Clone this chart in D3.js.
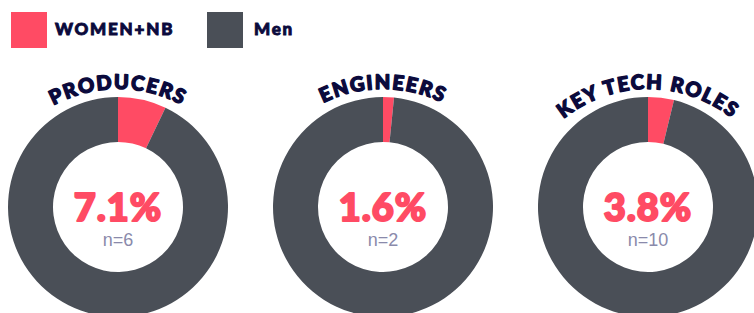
<!DOCTYPE html>
<html>
<head>
<meta charset="utf-8">
<script src="https://cdn.jsdelivr.net/npm/d3@7"></script>
<style>
  html, body { margin: 0; padding: 0; background: #ffffff; }
  svg { display: block; }
</style>
</head>
<body>
<svg id="chart" width="754" height="313"></svg>
<script>
// ---- data ----
const categories = ["PRODUCERS", "ENGINEERS", "KEY TECH ROLES"];
const womenNbPct = [7.1, 1.6, 3.8];
const counts = [6, 2, 10];
const seriesNames = ["WOMEN+NB", "Men"];
const seriesColors = ["#FF4B64", "#4A4F57"];

// ---- layout ----
const W = 754, H = 313;
const svg = d3.select("#chart");
const titleColor = "#0B0A3C";
const headFont = "Lato, 'DejaVu Sans', sans-serif";

// legend
const legend = svg.append("g");
const legendX = d3.scalePoint().domain(seriesNames).range([11, 207]);
seriesNames.forEach((name, i) => {
  const g = legend.append("g").attr("transform", `translate(${legendX(name)},12)`);
  g.append("rect").attr("width", 36).attr("height", 36).attr("fill", seriesColors[i]);
  g.append("text").attr("x", i === 0 ? 44 : 47).attr("y", 22.5)
    .attr("font-family", headFont).attr("font-weight", 900).attr("font-size", 17)
    .attr("letter-spacing", 1.8)
    .attr("stroke", titleColor).attr("stroke-width", 0.9)
    .attr("fill", titleColor).text(name);
});

// donuts
const x = d3.scalePoint().domain(categories).range([118, 648]);
const cy = 207;
const outerR = 110, innerR = 65;
const pie = d3.pie().sort(null).value(d => d);
const arc = d3.arc().innerRadius(innerR).outerRadius(outerR);
const color = d3.scaleOrdinal().domain([0, 1]).range(seriesColors);

const titleR = 135;      // radius of the curved title baseline
const titleTop = -118;   // baseline at the top, relative to donut centre

categories.forEach((cat, i) => {
  const g = svg.append("g").attr("transform", `translate(${x(cat)},${cy})`);
  const vals = [womenNbPct[i], 100 - womenNbPct[i]];
  g.selectAll("path.slice").data(pie(vals)).join("path")
    .attr("class", "slice")
    .attr("d", arc)
    .attr("fill", (d, j) => color(j));

  // curved title
  const c = titleTop + titleR;
  const pid = "tp" + i;
  g.append("path").attr("id", pid)
    .attr("d", `M ${-titleR},${c} A ${titleR},${titleR} 0 0 1 ${titleR},${c}`)
    .attr("fill", "none");
  g.append("text")
    .attr("font-family", headFont).attr("font-weight", 900).attr("font-size", 20)
    .attr("letter-spacing", 1.6)
    .attr("stroke", titleColor).attr("stroke-width", 1.4).attr("stroke-linejoin", "round")
    .attr("fill", titleColor)
    .append("textPath").attr("href", "#" + pid)
    .attr("startOffset", "50%").attr("text-anchor", "middle")
    .text(cat);

  g.append("text").attr("y", 14).attr("text-anchor", "middle")
    .attr("font-family", headFont).attr("font-weight", 900).attr("font-size", 38)
    .attr("letter-spacing", 1)
    .attr("stroke", seriesColors[0]).attr("stroke-width", 2).attr("stroke-linejoin", "round")
    .attr("fill", seriesColors[0])
    .text(d3.format(".1f")(womenNbPct[i]) + "%");

  g.append("text").attr("y", 39).attr("text-anchor", "middle")
    .attr("font-family", "'Liberation Sans', Arial, sans-serif").attr("font-size", 18)
    .attr("fill", "#8A8AAB")
    .text("n=" + counts[i]);
});
</script>
</body>
</html>
